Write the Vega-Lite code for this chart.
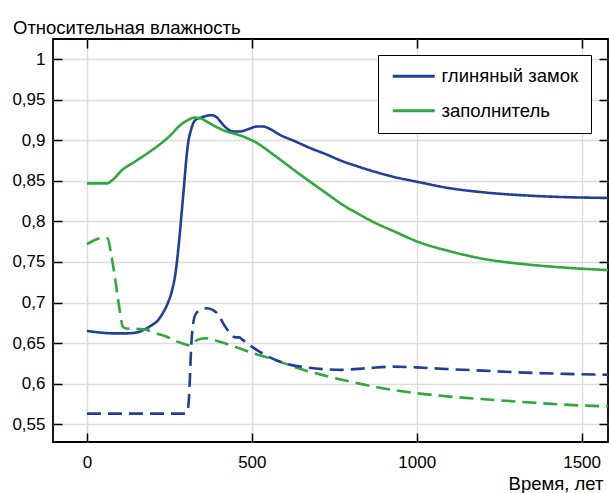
{
  "$schema": "https://vega.github.io/schema/vega-lite/v6.json",
  "width": 555,
  "height": 403,
  "autosize": {"type": "none"},
  "padding": {"left": 53, "top": 39, "right": 1, "bottom": 51},
  "background": "white",
  "config": {
    "font": "Liberation Sans",
    "view": {"stroke": "black", "strokeWidth": 1.8},
    "axis": {
      "labelFont": "Liberation Sans",
      "labelFontSize": 17,
      "labelColor": "black",
      "tickColor": "black",
      "tickWidth": 1.5,
      "tickSize": -9,
      "domain": false,
      "gridColor": "#dddddd",
      "gridWidth": 1.5
    }
  },
  "title": {
    "text": "Относительная влажность",
    "anchor": "start",
    "frame": "group",
    "dx": -40,
    "offset": -14,
    "fontSize": 18.5,
    "fontWeight": "normal",
    "font": "Liberation Sans",
    "baseline": "alphabetic",
    "color": "black"
  },
  "data": {
    "values": [
      {"t": 0, "rh": 0.665, "m": "глиняный замок", "s": "solid"},
      {"t": 40, "rh": 0.663, "m": "глиняный замок", "s": "solid"},
      {"t": 80, "rh": 0.662, "m": "глиняный замок", "s": "solid"},
      {"t": 120, "rh": 0.662, "m": "глиняный замок", "s": "solid"},
      {"t": 150, "rh": 0.663, "m": "глиняный замок", "s": "solid"},
      {"t": 175, "rh": 0.667, "m": "глиняный замок", "s": "solid"},
      {"t": 200, "rh": 0.673, "m": "глиняный замок", "s": "solid"},
      {"t": 215, "rh": 0.678, "m": "глиняный замок", "s": "solid"},
      {"t": 230, "rh": 0.687, "m": "глиняный замок", "s": "solid"},
      {"t": 245, "rh": 0.699, "m": "глиняный замок", "s": "solid"},
      {"t": 258, "rh": 0.715, "m": "глиняный замок", "s": "solid"},
      {"t": 268, "rh": 0.735, "m": "глиняный замок", "s": "solid"},
      {"t": 278, "rh": 0.77, "m": "глиняный замок", "s": "solid"},
      {"t": 287, "rh": 0.81, "m": "глиняный замок", "s": "solid"},
      {"t": 295, "rh": 0.847, "m": "глиняный замок", "s": "solid"},
      {"t": 302, "rh": 0.88, "m": "глиняный замок", "s": "solid"},
      {"t": 308, "rh": 0.9, "m": "глиняный замок", "s": "solid"},
      {"t": 315, "rh": 0.912, "m": "глиняный замок", "s": "solid"},
      {"t": 321, "rh": 0.92, "m": "глиняный замок", "s": "solid"},
      {"t": 332, "rh": 0.926, "m": "глиняный замок", "s": "solid"},
      {"t": 345, "rh": 0.928, "m": "глиняный замок", "s": "solid"},
      {"t": 360, "rh": 0.93, "m": "глиняный замок", "s": "solid"},
      {"t": 378, "rh": 0.931, "m": "глиняный замок", "s": "solid"},
      {"t": 392, "rh": 0.929, "m": "глиняный замок", "s": "solid"},
      {"t": 405, "rh": 0.923, "m": "глиняный замок", "s": "solid"},
      {"t": 418, "rh": 0.917, "m": "глиняный замок", "s": "solid"},
      {"t": 430, "rh": 0.913, "m": "глиняный замок", "s": "solid"},
      {"t": 445, "rh": 0.911, "m": "глиняный замок", "s": "solid"},
      {"t": 465, "rh": 0.911, "m": "глиняный замок", "s": "solid"},
      {"t": 490, "rh": 0.914, "m": "глиняный замок", "s": "solid"},
      {"t": 515, "rh": 0.917, "m": "глиняный замок", "s": "solid"},
      {"t": 535, "rh": 0.917, "m": "глиняный замок", "s": "solid"},
      {"t": 555, "rh": 0.914, "m": "глиняный замок", "s": "solid"},
      {"t": 584, "rh": 0.907, "m": "глиняный замок", "s": "solid"},
      {"t": 630, "rh": 0.899, "m": "глиняный замок", "s": "solid"},
      {"t": 680, "rh": 0.89, "m": "глиняный замок", "s": "solid"},
      {"t": 730, "rh": 0.882, "m": "глиняный замок", "s": "solid"},
      {"t": 770, "rh": 0.875, "m": "глиняный замок", "s": "solid"},
      {"t": 820, "rh": 0.868, "m": "глиняный замок", "s": "solid"},
      {"t": 867, "rh": 0.862, "m": "глиняный замок", "s": "solid"},
      {"t": 930, "rh": 0.855, "m": "глиняный замок", "s": "solid"},
      {"t": 1000, "rh": 0.849, "m": "глиняный замок", "s": "solid"},
      {"t": 1100, "rh": 0.841, "m": "глиняный замок", "s": "solid"},
      {"t": 1200, "rh": 0.836, "m": "глиняный замок", "s": "solid"},
      {"t": 1333, "rh": 0.832, "m": "глиняный замок", "s": "solid"},
      {"t": 1450, "rh": 0.83, "m": "глиняный замок", "s": "solid"},
      {"t": 1580, "rh": 0.829, "m": "глиняный замок", "s": "solid"},

      {"t": 0, "rh": 0.847, "m": "заполнитель", "s": "solid"},
      {"t": 60, "rh": 0.847, "m": "заполнитель", "s": "solid"},
      {"t": 80, "rh": 0.852, "m": "заполнитель", "s": "solid"},
      {"t": 103, "rh": 0.862, "m": "заполнитель", "s": "solid"},
      {"t": 150, "rh": 0.875, "m": "заполнитель", "s": "solid"},
      {"t": 194, "rh": 0.887, "m": "заполнитель", "s": "solid"},
      {"t": 230, "rh": 0.898, "m": "заполнитель", "s": "solid"},
      {"t": 255, "rh": 0.907, "m": "заполнитель", "s": "solid"},
      {"t": 281, "rh": 0.918, "m": "заполнитель", "s": "solid"},
      {"t": 306, "rh": 0.925, "m": "заполнитель", "s": "solid"},
      {"t": 325, "rh": 0.928, "m": "заполнитель", "s": "solid"},
      {"t": 345, "rh": 0.927, "m": "заполнитель", "s": "solid"},
      {"t": 372, "rh": 0.921, "m": "заполнитель", "s": "solid"},
      {"t": 400, "rh": 0.915, "m": "заполнитель", "s": "solid"},
      {"t": 423, "rh": 0.911, "m": "заполнитель", "s": "solid"},
      {"t": 450, "rh": 0.908, "m": "заполнитель", "s": "solid"},
      {"t": 484, "rh": 0.903, "m": "заполнитель", "s": "solid"},
      {"t": 510, "rh": 0.898, "m": "заполнитель", "s": "solid"},
      {"t": 533, "rh": 0.892, "m": "заполнитель", "s": "solid"},
      {"t": 560, "rh": 0.884, "m": "заполнитель", "s": "solid"},
      {"t": 600, "rh": 0.872, "m": "заполнитель", "s": "solid"},
      {"t": 629, "rh": 0.863, "m": "заполнитель", "s": "solid"},
      {"t": 680, "rh": 0.848, "m": "заполнитель", "s": "solid"},
      {"t": 732, "rh": 0.833, "m": "заполнитель", "s": "solid"},
      {"t": 770, "rh": 0.822, "m": "заполнитель", "s": "solid"},
      {"t": 820, "rh": 0.81, "m": "заполнитель", "s": "solid"},
      {"t": 870, "rh": 0.799, "m": "заполнитель", "s": "solid"},
      {"t": 930, "rh": 0.788, "m": "заполнитель", "s": "solid"},
      {"t": 1003, "rh": 0.775, "m": "заполнитель", "s": "solid"},
      {"t": 1103, "rh": 0.763, "m": "заполнитель", "s": "solid"},
      {"t": 1200, "rh": 0.754, "m": "заполнитель", "s": "solid"},
      {"t": 1333, "rh": 0.747, "m": "заполнитель", "s": "solid"},
      {"t": 1450, "rh": 0.743, "m": "заполнитель", "s": "solid"},
      {"t": 1580, "rh": 0.74, "m": "заполнитель", "s": "solid"},

      {"t": 0, "rh": 0.772, "m": "заполнитель", "s": "dashed"},
      {"t": 50, "rh": 0.78, "m": "заполнитель", "s": "dashed"},
      {"t": 63, "rh": 0.779, "m": "заполнитель", "s": "dashed"},
      {"t": 73, "rh": 0.76, "m": "заполнитель", "s": "dashed"},
      {"t": 83, "rh": 0.736, "m": "заполнитель", "s": "dashed"},
      {"t": 98, "rh": 0.694, "m": "заполнитель", "s": "dashed"},
      {"t": 109, "rh": 0.67, "m": "заполнитель", "s": "dashed"},
      {"t": 120, "rh": 0.668, "m": "заполнитель", "s": "dashed"},
      {"t": 173, "rh": 0.667, "m": "заполнитель", "s": "dashed"},
      {"t": 209, "rh": 0.662, "m": "заполнитель", "s": "dashed"},
      {"t": 240, "rh": 0.658, "m": "заполнитель", "s": "dashed"},
      {"t": 280, "rh": 0.651, "m": "заполнитель", "s": "dashed"},
      {"t": 313, "rh": 0.647, "m": "заполнитель", "s": "dashed"},
      {"t": 335, "rh": 0.654, "m": "заполнитель", "s": "dashed"},
      {"t": 358, "rh": 0.656, "m": "заполнитель", "s": "dashed"},
      {"t": 400, "rh": 0.652, "m": "заполнитель", "s": "dashed"},
      {"t": 452, "rh": 0.645, "m": "заполнитель", "s": "dashed"},
      {"t": 500, "rh": 0.638, "m": "заполнитель", "s": "dashed"},
      {"t": 556, "rh": 0.631, "m": "заполнитель", "s": "dashed"},
      {"t": 665, "rh": 0.616, "m": "заполнитель", "s": "dashed"},
      {"t": 750, "rh": 0.607, "m": "заполнитель", "s": "dashed"},
      {"t": 826, "rh": 0.6, "m": "заполнитель", "s": "dashed"},
      {"t": 900, "rh": 0.594, "m": "заполнитель", "s": "dashed"},
      {"t": 983, "rh": 0.589, "m": "заполнитель", "s": "dashed"},
      {"t": 1100, "rh": 0.584, "m": "заполнитель", "s": "dashed"},
      {"t": 1196, "rh": 0.581, "m": "заполнитель", "s": "dashed"},
      {"t": 1300, "rh": 0.578, "m": "заполнитель", "s": "dashed"},
      {"t": 1409, "rh": 0.575, "m": "заполнитель", "s": "dashed"},
      {"t": 1500, "rh": 0.573, "m": "заполнитель", "s": "dashed"},
      {"t": 1580, "rh": 0.572, "m": "заполнитель", "s": "dashed"},

      {"t": 0, "rh": 0.563, "m": "глиняный замок", "s": "dashed"},
      {"t": 100, "rh": 0.563, "m": "глиняный замок", "s": "dashed"},
      {"t": 200, "rh": 0.563, "m": "глиняный замок", "s": "dashed"},
      {"t": 298, "rh": 0.563, "m": "глиняный замок", "s": "dashed"},
      {"t": 305, "rh": 0.567, "m": "глиняный замок", "s": "dashed"},
      {"t": 309, "rh": 0.58, "m": "глиняный замок", "s": "dashed"},
      {"t": 312, "rh": 0.605, "m": "глиняный замок", "s": "dashed"},
      {"t": 316, "rh": 0.645, "m": "глиняный замок", "s": "dashed"},
      {"t": 322, "rh": 0.674, "m": "глиняный замок", "s": "dashed"},
      {"t": 330, "rh": 0.686, "m": "глиняный замок", "s": "dashed"},
      {"t": 345, "rh": 0.691, "m": "глиняный замок", "s": "dashed"},
      {"t": 364, "rh": 0.693, "m": "глиняный замок", "s": "dashed"},
      {"t": 385, "rh": 0.69, "m": "глиняный замок", "s": "dashed"},
      {"t": 400, "rh": 0.684, "m": "глиняный замок", "s": "dashed"},
      {"t": 415, "rh": 0.673, "m": "глиняный замок", "s": "dashed"},
      {"t": 430, "rh": 0.664, "m": "глиняный замок", "s": "dashed"},
      {"t": 449, "rh": 0.657, "m": "глиняный замок", "s": "dashed"},
      {"t": 462, "rh": 0.657, "m": "глиняный замок", "s": "dashed"},
      {"t": 472, "rh": 0.654, "m": "глиняный замок", "s": "dashed"},
      {"t": 495, "rh": 0.647, "m": "глиняный замок", "s": "dashed"},
      {"t": 556, "rh": 0.632, "m": "глиняный замок", "s": "dashed"},
      {"t": 610, "rh": 0.624, "m": "глиняный замок", "s": "dashed"},
      {"t": 665, "rh": 0.62, "m": "глиняный замок", "s": "dashed"},
      {"t": 771, "rh": 0.617, "m": "глиняный замок", "s": "dashed"},
      {"t": 850, "rh": 0.619, "m": "глиняный замок", "s": "dashed"},
      {"t": 929, "rh": 0.621, "m": "глиняный замок", "s": "dashed"},
      {"t": 1000, "rh": 0.62, "m": "глиняный замок", "s": "dashed"},
      {"t": 1090, "rh": 0.618, "m": "глиняный замок", "s": "dashed"},
      {"t": 1200, "rh": 0.616, "m": "глиняный замок", "s": "dashed"},
      {"t": 1303, "rh": 0.614, "m": "глиняный замок", "s": "dashed"},
      {"t": 1450, "rh": 0.612, "m": "глиняный замок", "s": "dashed"},
      {"t": 1580, "rh": 0.611, "m": "глиняный замок", "s": "dashed"}
    ]
  },
  "resolve": {"axis": {"x": "independent", "y": "independent"}},
  "layer": [
    {
      "mark": {"type": "line", "interpolate": "monotone", "strokeWidth": 2.6},
      "encoding": {
        "x": {
          "field": "t",
          "type": "quantitative",
          "scale": {"domain": [-103, 1580], "nice": false, "zero": false},
          "axis": {
            "orient": "bottom",
            "values": [0, 500, 1000, 1500],
            "format": "d",
            "labelPadding": 21,
            "title": "Время, лет",
            "titleFont": "Liberation Sans",
            "titleFontSize": 18.5,
            "titleFontWeight": "normal",
            "titleColor": "black",
            "titleAlign": "right",
            "titleBaseline": "alphabetic",
            "titleX": 550,
            "titleY": 47
          }
        },
        "y": {
          "field": "rh",
          "type": "quantitative",
          "scale": {"domain": [0.528, 1.025], "nice": false, "zero": false},
          "axis": {
            "orient": "left",
            "values": [0.55, 0.6, 0.65, 0.7, 0.75, 0.8, 0.85, 0.9, 0.95, 1],
            "labelExpr": "replace(format(datum.value, '~g'), '.', ',')",
            "labelPadding": 17,
            "title": null
          }
        },
        "color": {
          "field": "m",
          "type": "nominal",
          "scale": {"domain": ["глиняный замок", "заполнитель"], "range": ["#1f3f9b", "#2fa83c"]},
          "legend": {
            "orient": "none",
            "legendX": 325,
            "legendY": 16,
            "title": null,
            "symbolType": "M-1.3,0H7.1",
            "symbolSize": 100,
            "symbolStrokeWidth": 3,
            "labelOffset": 33,
            "labelFont": "Liberation Sans",
            "labelFontSize": 18.5,
            "labelColor": "black",
            "padding": 12,
            "rowPadding": 15.5,
            "strokeColor": "black",
            "fillColor": "white"
          }
        },
        "strokeDash": {
          "field": "s",
          "type": "nominal",
          "scale": {"domain": ["solid", "dashed"], "range": [[1, 0], [14, 7]]},
          "legend": null
        }
      }
    },
    {
      "mark": {"type": "line", "opacity": 0},
      "encoding": {
        "x": {
          "field": "t",
          "type": "quantitative",
          "scale": {"domain": [-103, 1580], "nice": false, "zero": false},
          "axis": {"orient": "top", "values": [0, 500, 1000, 1500], "labels": false, "grid": false, "title": null}
        },
        "y": {
          "field": "rh",
          "type": "quantitative",
          "scale": {"domain": [0.528, 1.025], "nice": false, "zero": false},
          "axis": {"orient": "right", "values": [0.55, 0.6, 0.65, 0.7, 0.75, 0.8, 0.85, 0.9, 0.95, 1], "labels": false, "grid": false, "title": null}
        },
        "detail": {"field": "s", "type": "nominal"}
      }
    }
  ]
}
